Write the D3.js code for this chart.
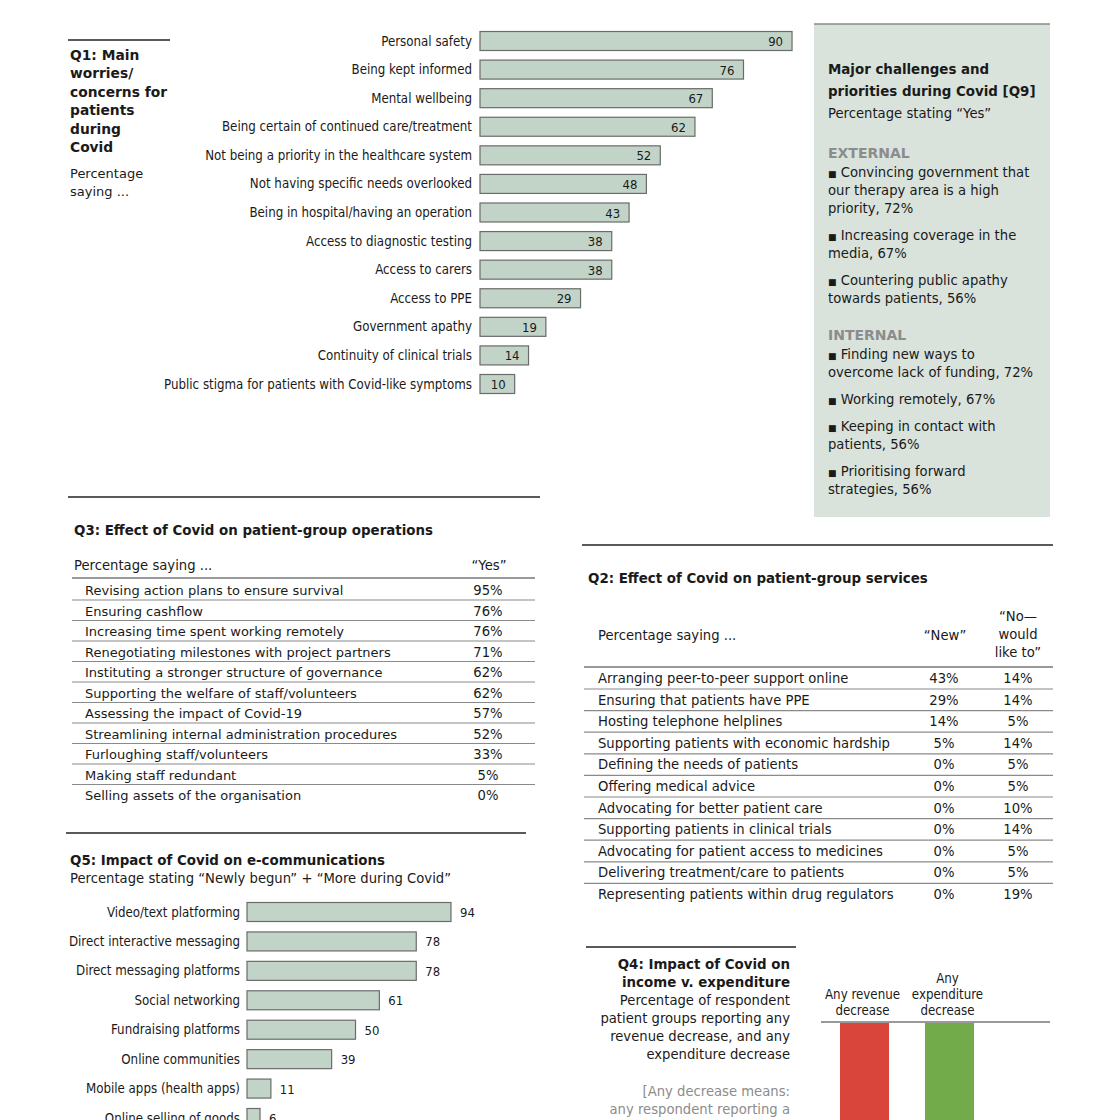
<!DOCTYPE html>
<html><head><meta charset="utf-8">
<script src="https://cdn.jsdelivr.net/npm/d3@7"></script>
<style>
html,body{margin:0;padding:0;background:#fff;}
svg{display:block;}
text{font-family:"DejaVu Sans",Verdana,sans-serif;fill:#1a1a1a;}
.lbl{font-family:"DejaVu Sans Condensed","DejaVu Sans",sans-serif;}
</style></head>
<body>
<script>
// ---------- DATA ----------
const q1Categories = ["Personal safety","Being kept informed","Mental wellbeing","Being certain of continued care/treatment","Not being a priority in the healthcare system","Not having specific needs overlooked","Being in hospital/having an operation","Access to diagnostic testing","Access to carers","Access to PPE","Government apathy","Continuity of clinical trials","Public stigma for patients with Covid-like symptoms"];
const q1Values = [90,76,67,62,52,48,43,38,38,29,19,14,10];

const q9External = ["Convincing government that|our therapy area is a high|priority, 72%","Increasing coverage in the|media, 67%","Countering public apathy|towards patients, 56%"];
const q9Internal = ["Finding new ways to|overcome lack of funding, 72%","Working remotely, 67%","Keeping in contact with|patients, 56%","Prioritising forward|strategies, 56%"];

const q3Categories = ["Revising action plans to ensure survival","Ensuring cashflow","Increasing time spent working remotely","Renegotiating milestones with project partners","Instituting a stronger structure of governance","Supporting the welfare of staff/volunteers","Assessing the impact of Covid-19","Streamlining internal administration procedures","Furloughing staff/volunteers","Making staff redundant","Selling assets of the organisation"];
const q3Yes = [95,76,76,71,62,62,57,52,33,5,0];

const q2Categories = ["Arranging peer-to-peer support online","Ensuring that patients have PPE","Hosting telephone helplines","Supporting patients with economic hardship","Defining the needs of patients","Offering medical advice","Advocating for better patient care","Supporting patients in clinical trials","Advocating for patient access to medicines","Delivering treatment/care to patients","Representing patients within drug regulators"];
const q2New = [43,29,14,5,0,0,0,0,0,0,0];
const q2WouldLike = [14,14,5,14,5,5,10,14,5,5,19];

const q5Categories = ["Video/text platforming","Direct interactive messaging","Direct messaging platforms","Social networking","Fundraising platforms","Online communities","Mobile apps (health apps)","Online selling of goods"];
const q5Values = [94,78,78,61,50,39,11,6];

const q4Categories = ["Any revenue|decrease","Any|expenditure|decrease"];
const q4Values = [71,57]; // estimated: bars run off the visible page
const q4Colors = ["#d9453a","#72ac4a"];

// ---------- DRAW ----------
const W = 1120, H = 1120;
const svg = d3.select("body").append("svg").attr("width",W).attr("height",H);
const BODY = 13.2, BOLD = 13.4;

function multiline(g, x, y, lines, lh, opts={}) {
  const t = g.append("text").attr("x",x).attr("y",y)
    .attr("text-anchor",opts.anchor||"start")
    .style("font-size",(opts.size||BODY)+"px")
    .style("font-weight",opts.weight||"normal");
  if (opts.fill) t.style("fill",opts.fill);
  if (opts.cls) t.attr("class",opts.cls);
  lines.forEach((l,i)=>t.append("tspan").attr("x",x).attr("dy",i===0?0:lh).text(l));
  return t;
}
function rule(x1,x2,y,w=1.5,c="#222"){ svg.append("line").attr("x1",x1).attr("x2",x2).attr("y1",y).attr("y2",y).attr("stroke",c).attr("stroke-width",w); }

const barFill = "#c2d4c7", barStroke = "#6b6b6b";

// Q1
rule(68,170,40);
multiline(svg,70,60,["Q1: Main","worries/","concerns for","patients","during","Covid"],18.4,{weight:"bold",size:13.8});
multiline(svg,70,178,["Percentage","saying ..."],18.4,{size:13});

const q1x = d3.scaleLinear().domain([0,100]).range([480,480+346.7]);
const q1y = d3.scalePoint().domain(q1Categories).range([41,384]);
const q1g = svg.append("g");
q1g.selectAll("rect").data(q1Values).join("rect")
  .attr("x",q1x(0)).attr("y",(d,i)=>q1y(q1Categories[i])-9.5)
  .attr("width",d=>q1x(d)-q1x(0)).attr("height",19)
  .attr("fill",barFill).attr("stroke",barStroke).attr("stroke-width",1.2);
q1g.selectAll("text.v").data(q1Values).join("text").attr("class","v lbl")
  .attr("x",d=>q1x(d)-9).attr("y",(d,i)=>q1y(q1Categories[i])+5)
  .attr("text-anchor","end").style("font-size","13px").text(d=>d);
q1g.selectAll("text.c").data(q1Categories).join("text").attr("class","c lbl")
  .attr("x",472).attr("y",d=>q1y(d)+4.5)
  .attr("text-anchor","end").style("font-size","13.2px").text(d=>d);

// Q9 panel
svg.append("rect").attr("x",814).attr("y",24).attr("width",236).attr("height",493).attr("fill","#d9e3dc");
rule(814,1050,24,1.5,"#8a8a8a");
multiline(svg,828,74,["Major challenges and","priorities during Covid [Q9]"],22,{weight:"bold",size:BOLD});
multiline(svg,828,118,["Percentage stating \u201cYes\u201d"],18,{size:BODY});
function q9Block(title, items, y0){
  svg.append("text").attr("x",828).attr("y",y0).style("font-size","14px").style("font-weight","bold").style("fill","#8c8c8c").text(title);
  let y = y0+19;
  items.forEach(it=>{
    const lines = it.split("|");
    const t = multiline(svg,828,y,[""].concat(lines.slice(1)),18,{size:BODY});
    const first = t.select("tspan");
    first.append("tspan").style("font-size","9px").text("\u25A0");
    first.append("tspan").text(" " + lines[0]);
    y += lines.length*18 + 9;
  });
}
q9Block("EXTERNAL", q9External, 158);
q9Block("INTERNAL", q9Internal, 340);

// Q3 table
rule(68,540,497);
svg.append("text").attr("x",74).attr("y",535).style("font-size",BOLD+"px").style("font-weight","bold").text("Q3: Effect of Covid on patient-group operations");
svg.append("text").attr("x",74).attr("y",570).style("font-size",BODY+"px").text("Percentage saying ...");
svg.append("text").attr("x",489).attr("y",570).attr("text-anchor","middle").style("font-size",BODY+"px").text("\u201cYes\u201d");
rule(72,535,578,1.5,"#777");
const q3y = d3.scalePoint().domain(q3Categories).range([590,795]);
const q3g = svg.append("g");
q3g.selectAll("line").data(q3Categories.slice(0,-1)).join("line")
  .attr("x1",72).attr("x2",535).attr("y1",d=>q3y(d)+10).attr("y2",d=>q3y(d)+10)
  .attr("stroke","#8a8a8a").attr("stroke-width",1.2);
q3g.selectAll("text.c").data(q3Categories).join("text").attr("class","c")
  .attr("x",85).attr("y",d=>q3y(d)+5).style("font-size","13px").text(d=>d);
q3g.selectAll("text.v").data(q3Yes).join("text").attr("class","v")
  .attr("x",488).attr("y",(d,i)=>q3y(q3Categories[i])+5).attr("text-anchor","middle").style("font-size",BODY+"px").text(d=>d+"%");
rule(66,526,833);

// Q2 table
rule(582,1053,545);
svg.append("text").attr("x",588).attr("y",583).style("font-size",BOLD+"px").style("font-weight","bold").text("Q2: Effect of Covid on patient-group services");
svg.append("text").attr("x",598).attr("y",640).style("font-size",BODY+"px").text("Percentage saying ...");
svg.append("text").attr("x",945).attr("y",640).attr("text-anchor","middle").style("font-size",BODY+"px").text("\u201cNew\u201d");
multiline(svg,1018,621,["\u201cNo\u2014","would","like to\u201d"],18,{anchor:"middle",size:BODY});
rule(584,1053,667,1.5,"#777");
const q2y = d3.scalePoint().domain(q2Categories).range([678,894]);
const q2g = svg.append("g");
q2g.selectAll("line").data(q2Categories.slice(0,-1)).join("line")
  .attr("x1",584).attr("x2",1053).attr("y1",d=>q2y(d)+11).attr("y2",d=>q2y(d)+11)
  .attr("stroke","#8a8a8a").attr("stroke-width",1.2);
q2g.selectAll("text.c").data(q2Categories).join("text").attr("class","c")
  .attr("x",598).attr("y",d=>q2y(d)+5).style("font-size",BODY+"px").text(d=>d);
q2g.selectAll("text.n").data(q2New).join("text").attr("class","n")
  .attr("x",944).attr("y",(d,i)=>q2y(q2Categories[i])+5).attr("text-anchor","middle").style("font-size",BODY+"px").text(d=>d+"%");
q2g.selectAll("text.w").data(q2WouldLike).join("text").attr("class","w")
  .attr("x",1018).attr("y",(d,i)=>q2y(q2Categories[i])+5).attr("text-anchor","middle").style("font-size",BODY+"px").text(d=>d+"%");

// Q5
svg.append("text").attr("x",70).attr("y",865).style("font-size",BOLD+"px").style("font-weight","bold").text("Q5: Impact of Covid on e-communications");
svg.append("text").attr("x",70).attr("y",883).style("font-size",BODY+"px").text("Percentage stating \u201cNewly begun\u201d + \u201cMore during Covid\u201d");
const q5x = d3.scaleLinear().domain([0,100]).range([247,247+217]);
const q5y = d3.scalePoint().domain(q5Categories).range([912,1118]);
const q5g = svg.append("g");
q5g.selectAll("rect").data(q5Values).join("rect")
  .attr("x",q5x(0)).attr("y",(d,i)=>q5y(q5Categories[i])-9.5)
  .attr("width",d=>q5x(d)-q5x(0)).attr("height",19)
  .attr("fill",barFill).attr("stroke",barStroke).attr("stroke-width",1.2);
q5g.selectAll("text.v").data(q5Values).join("text").attr("class","v lbl")
  .attr("x",d=>q5x(d)+9).attr("y",(d,i)=>q5y(q5Categories[i])+5)
  .style("font-size","13px").text(d=>d);
q5g.selectAll("text.c").data(q5Categories).join("text").attr("class","c lbl")
  .attr("x",240).attr("y",d=>q5y(d)+4.5)
  .attr("text-anchor","end").style("font-size","13.2px").text(d=>d);

// Q4
rule(586,796,947);
multiline(svg,790,969,["Q4: Impact of Covid on","income v. expenditure"],18,{anchor:"end",weight:"bold",size:BOLD});
multiline(svg,790,1005,["Percentage of respondent","patient groups reporting any","revenue decrease, and any","expenditure decrease"],18,{anchor:"end",size:BODY});
multiline(svg,790,1096,["[Any decrease means:","any respondent reporting a"],18,{anchor:"end",size:BODY,fill:"#8c8c8c"});
const q4x = d3.scaleBand().domain(q4Categories).range([821,993]).paddingInner(0.4235).paddingOuter(0.2235);
const q4y = d3.scaleLinear().domain([0,100]).range([1023,1023+300]);
const q4g = svg.append("g");
q4g.selectAll("rect").data(q4Values).join("rect")
  .attr("x",(d,i)=>q4x(q4Categories[i])).attr("y",q4y(0))
  .attr("width",q4x.bandwidth()).attr("height",d=>q4y(d)-q4y(0))
  .attr("fill",(d,i)=>q4Colors[i]);
q4Categories.forEach(c=>{
  const lines = c.split("|");
  const cx = q4x(c)+q4x.bandwidth()/2 - 2;
  multiline(q4g,cx,1015-16*(lines.length-1),lines,16,{anchor:"middle",size:13.2,cls:"lbl"});
});
rule(821,1050,1022,1.3,"#777");
</script>
</body></html>
